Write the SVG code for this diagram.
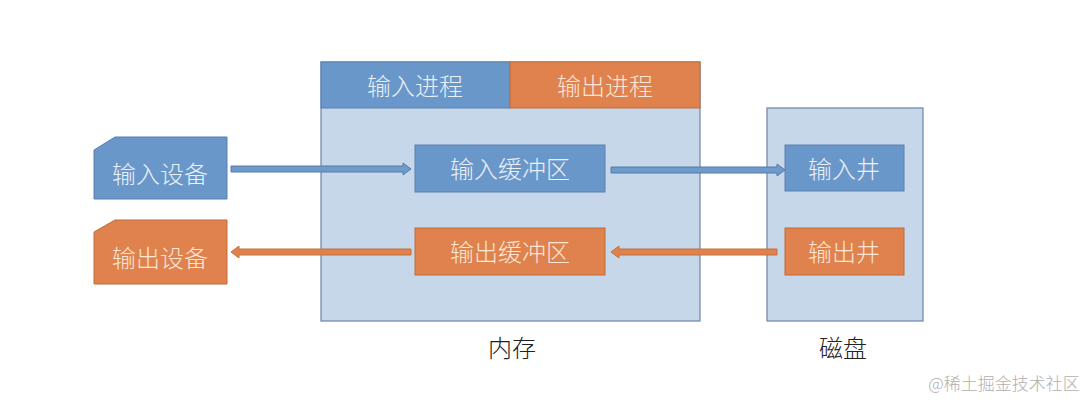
<svg xmlns="http://www.w3.org/2000/svg" width="1090" height="400" viewBox="0 0 1090 400">
<style>
.cont{fill:#c6d7ea;stroke:#6d84a6;stroke-width:1.2}
.blue{fill:#6a97c9;stroke:#5a80ad;stroke-width:1}
.orange{fill:#e0824d;stroke:#c06a3a;stroke-width:1}
.tb{font-family:"Noto Sans CJK SC",sans-serif;font-size:24px;fill:#eaf0f8;text-anchor:middle;dominant-baseline:central;font-weight:300}
.to{font-family:"Noto Sans CJK SC",sans-serif;font-size:24px;fill:#fbe6d8;text-anchor:middle;dominant-baseline:central;font-weight:300}
.lbl{font-family:"Noto Sans CJK SC",serif;font-size:24px;fill:#222;text-anchor:middle;dominant-baseline:central;font-weight:300}
.ab{fill:#6f9bcb;stroke:#557ba8;stroke-width:1}
.ao{fill:#e0824d;stroke:#c4703e;stroke-width:1}
</style>
<rect width="1090" height="400" fill="#ffffff"/>
<g id="memory">
<rect class="cont" x="321" y="62" width="379" height="259"/>
<text class="lbl" x="512" y="346">内存</text>
</g>
<g id="input-process">
<rect class="blue" x="321" y="62" width="189" height="46"/>
<text class="tb" x="415" y="84">输入进程</text>
</g>
<g id="output-process">
<rect class="orange" x="510" y="62" width="190" height="46"/>
<text class="to" x="605" y="84">输出进程</text>
</g>
<g id="disk">
<rect class="cont" x="767" y="108" width="156" height="213"/>
<text class="lbl" x="843" y="346">磁盘</text>
</g>
<g id="input-device">
<path class="blue" d="M94,150 L115,137 L227,137 L227,199 L94,199 Z"/>
<text class="tb" x="160" y="172">输入设备</text>
</g>
<g id="output-device">
<path class="orange" d="M94,232 L115,220 L227,220 L227,284 L94,284 Z"/>
<text class="to" x="160" y="256">输出设备</text>
</g>
<g id="input-buffer">
<rect class="blue" x="415" y="145" width="190" height="47"/>
<text class="tb" x="510" y="167">输入缓冲区</text>
</g>
<g id="output-buffer">
<rect class="orange" x="415" y="228" width="190" height="47"/>
<text class="to" x="510" y="250">输出缓冲区</text>
</g>
<g id="input-well">
<rect class="blue" x="785" y="145" width="119" height="46"/>
<text class="tb" x="844" y="167">输入井</text>
</g>
<g id="output-well">
<rect class="orange" x="785" y="228" width="119" height="47"/>
<text class="to" x="844" y="250">输出井</text>
</g>
<g id="connectors">
<path class="ab" d="M231,166 L403,166 L403,163 L411,169 L403,175 L403,172 L231,172 Z"/>
<path class="ab" d="M611,167 L777,167 L777,164 L785,170 L777,176 L777,173 L611,173 Z"/>
<path class="ao" d="M777,249 L619,249 L619,246 L611,252 L619,258 L619,255 L777,255 Z"/>
<path class="ao" d="M411,249 L239,249 L239,246 L231,252 L239,258 L239,255 L411,255 Z"/>
</g>
<text x="1004" y="382" font-family="Noto Sans CJK SC,sans-serif" font-size="17" fill="#b0b0b0" text-anchor="middle" dominant-baseline="central" font-weight="300">@稀土掘金技术社区</text>
</svg>
